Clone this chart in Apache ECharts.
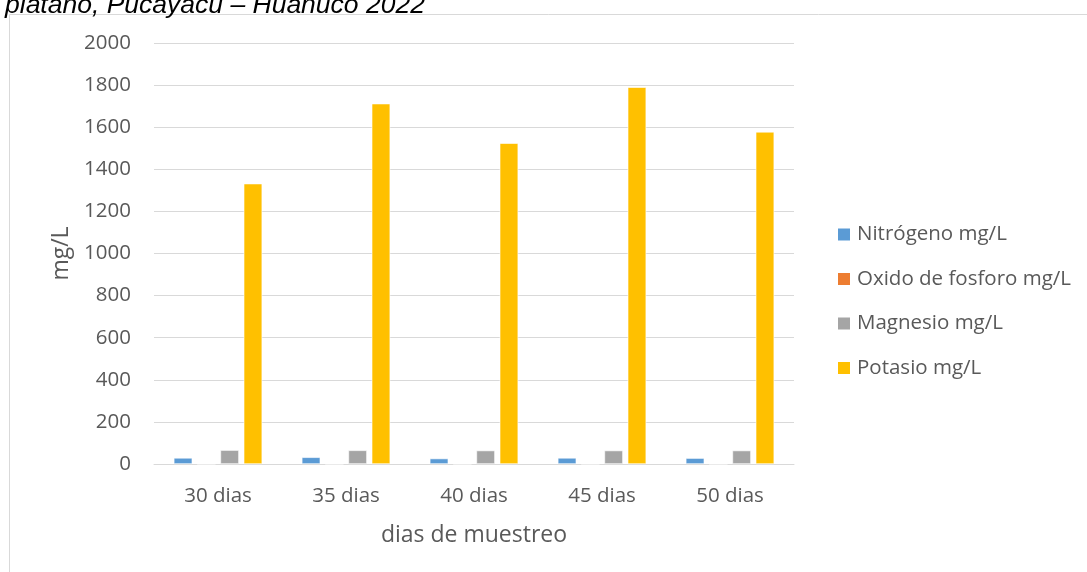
<!DOCTYPE html>
<html>
<head>
<meta charset="utf-8">
<script src="https://cdn.jsdelivr.net/npm/echarts@6/dist/echarts.min.js"></script>
<style>
html,body{margin:0;padding:0;background:#fff;}
#chart{width:1087px;height:572px;}
</style>
</head>
<body>
<div id="chart"></div>
<script>
const categories = ['30 dias', '35 dias', '40 dias', '45 dias', '50 dias'];
const nitrogeno = [29, 32, 26, 29, 28];
const oxidoFosforo = [0.5, 0.5, 0.5, 0.5, 0.5];
const magnesio = [66, 65, 64, 64, 64];
const potasio = [1332, 1712, 1524, 1790, 1578];
const yTicks = [0, 200, 400, 600, 800, 1000, 1200, 1400, 1600, 1800, 2000];
const titleText = 'plátano, Pucayacu – Huánuco 2022';

const FONT = '"Open Sans", sans-serif';
const chart = echarts.init(document.getElementById('chart'));

function barSeries(name, data, color) {
  return {
    name: name,
    type: 'bar',
    data: data,
    barWidth: 18.5,
    barGap: '26%',
    itemStyle: { color: color, borderColor: '#ffffff', borderWidth: 0.6 },
    emphasis: { disabled: true }
  };
}

chart.setOption({
  animation: false,
  backgroundColor: '#ffffff',
  textStyle: { fontFamily: FONT },
  graphic: [
    {
      type: 'rect',
      shape: { x: 9.5, y: 14.5, width: 1200, height: 700 },
      style: { fill: 'none', stroke: '#d9d9d9', lineWidth: 1 },
      silent: true
    },
    {
      type: 'text',
      x: 5,
      y: 6,
      style: {
        text: titleText,
        font: 'italic 26.5px "Liberation Sans", Arial, sans-serif',
        fill: '#000000',
        textAlign: 'left',
        verticalAlign: 'middle'
      },
      silent: true
    }
  ],
  grid: { left: 154, right: 293, top: 43, bottom: 108, containLabel: false },
  legend: {
    orient: 'vertical',
    left: 831,
    top: 219,
    itemWidth: 14,
    itemHeight: 14,
    itemGap: 23.5,
    icon: 'rect',
    textStyle: { color: '#595959', fontSize: 20.5, fontFamily: FONT, padding: [0, 0, 0, 1] },
    data: ['Nitrógeno mg/L', 'Oxido de fosforo mg/L', 'Magnesio mg/L', 'Potasio mg/L']
  },
  xAxis: {
    type: 'category',
    data: categories,
    name: 'dias de muestreo',
    nameLocation: 'middle',
    nameGap: 60,
    nameTextStyle: { color: '#595959', fontSize: 23, fontFamily: FONT },
    axisLine: { show: true, lineStyle: { color: '#d9d9d9', width: 1 } },
    axisTick: { show: false },
    axisLabel: { color: '#595959', fontSize: 20.5, margin: 22, fontFamily: FONT },
    splitLine: { show: false }
  },
  yAxis: {
    type: 'value',
    min: yTicks[0],
    max: yTicks[yTicks.length - 1],
    interval: yTicks[1] - yTicks[0],
    name: 'mg/L',
    nameLocation: 'middle',
    nameGap: 79,
    nameTextStyle: { color: '#595959', fontSize: 23, fontFamily: FONT },
    axisLine: { show: false },
    axisTick: { show: false },
    axisLabel: {
      color: '#595959', fontSize: 20.5, margin: 23, fontFamily: FONT,
      formatter: function (v) { return String(v); }
    },
    splitLine: { show: true, lineStyle: { color: '#d9d9d9', width: 1 } }
  },
  series: [
    barSeries('Nitrógeno mg/L', nitrogeno, '#5B9BD5'),
    barSeries('Oxido de fosforo mg/L', oxidoFosforo, '#ED7D31'),
    barSeries('Magnesio mg/L', magnesio, '#A5A5A5'),
    barSeries('Potasio mg/L', potasio, '#FFC000')
  ]
});
</script>
</body>
</html>
